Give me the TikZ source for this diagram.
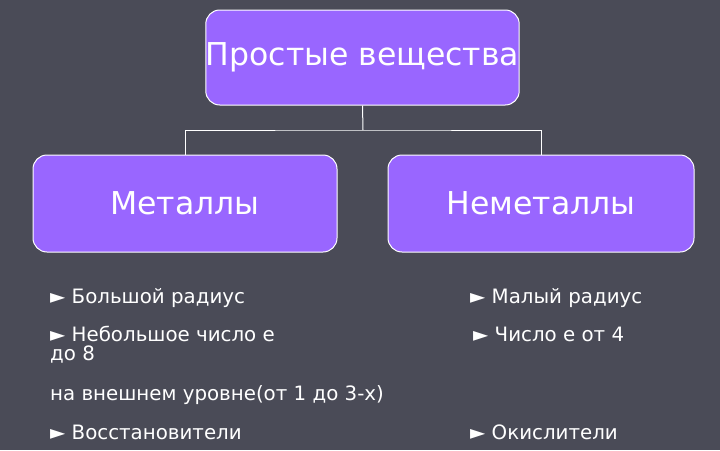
\documentclass[tikz,border=0pt]{standalone}
\usepackage{fontspec}
\setmainfont{DejaVu Sans}
\begin{document}
\begin{tikzpicture}[x=1pt,y=-1pt,
  box/.style={draw=white,line width=1pt,fill=boxc,rounded corners=14pt,text=white,inner sep=0pt},
  t/.style={text=white,anchor=west,inner sep=0pt,font=\fontsize{19.8}{22}\selectfont},
  con/.style={draw=white,line width=1pt}]
\definecolor{bg}{HTML}{4A4B57}
\definecolor{boxc}{HTML}{9966FF}
\fill[bg] (0,0) rectangle (720,450);
\useasboundingbox (0,0) rectangle (720,450);
\node[box,minimum width=305pt,minimum height=95pt,font=\fontsize{31.5}{36}\selectfont] (top) at (362.5,57.5) {Простые вещества};
\node[box,minimum width=304pt,minimum height=97pt,font=\fontsize{31.5}{36}\selectfont] (met) at (185,203.5) {Металлы};
\node[box,minimum width=306pt,minimum height=97pt,font=\fontsize{31.5}{36}\selectfont] (nem) at (541,203.5) {Неметаллы};
\coordinate (j) at (363,130);
\draw[con] (top.south) -- (j);
\draw[con] (met.north) |- (j) -| (nem.north);
\node[t] (a1) at (50,298) {► Большой радиус};
\node[t] (b1) at (470,298) {► Малый радиус};
\node[t] (a2) at (50,334) {► Небольшое число е};
\node[t] (b2) at (473,334) {► Число е от 4};
\node[t] (a3) at (50,355) {до 8};
\node[t] (a4) at (50,395) {на внешнем уровне(от 1 до 3-х)};
\node[t] (a5) at (50,432) {► Восстановители};
\node[t] (b5) at (470,432) {► Окислители};
\end{tikzpicture}
\end{document}
